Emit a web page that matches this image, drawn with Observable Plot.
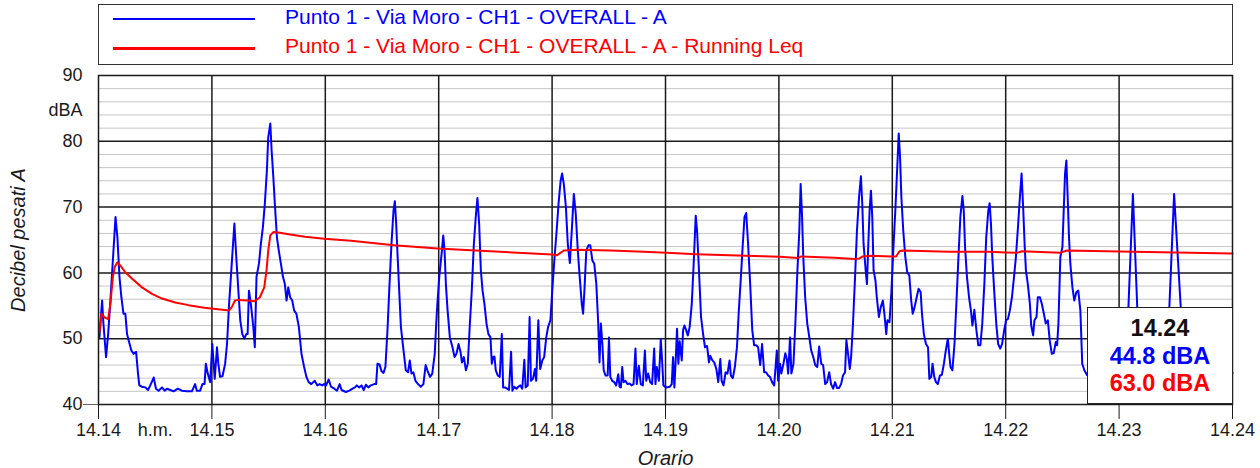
<!DOCTYPE html>
<html><head><meta charset="utf-8">
<script src="https://cdn.jsdelivr.net/npm/d3@7"></script>
<script src="https://cdn.jsdelivr.net/npm/@observablehq/plot@0.6"></script>
<style>
body{margin:0;background:#fff;font-family:"Liberation Sans",Arial,sans-serif;}
#wrap{position:relative;width:1260px;height:468px;overflow:hidden;background:#fff}
#legend{position:absolute;left:98px;top:4px;width:1135px;height:61px;border:1.5px solid #333;box-sizing:border-box;background:#fff}
.lg-line{position:absolute;left:14px;width:142px;height:2.5px}
.lg-text{position:absolute;left:186px;font-size:21px;line-height:24px;white-space:nowrap}
#info{position:absolute;left:1087px;top:307px;width:146px;height:97px;border:1.5px solid #222;box-sizing:border-box;background:#fff;text-align:center;font-weight:bold;font-size:23.5px;line-height:27.5px;padding-top:7px}
</style>
</head><body>
<div id="wrap"></div>
<script>
// ---- data ----
const xTickSeconds = [0, 60, 120, 180, 240, 300, 360, 420, 480, 540, 600];
const xTickLabels = ["14.14","14.15","14.16","14.17","14.18","14.19","14.20","14.21","14.22","14.23","14.24"];
const yTicks = [40, 50, 60, 70, 80, 90];
const yMinor = [42,44,46,48,52,54,56,58,62,64,66,68,72,74,76,78,82,84,86,88];
const legendLabels = ["Punto 1 - Via Moro - CH1 - OVERALL - A", "Punto 1 - Via Moro - CH1 - OVERALL - A - Running Leq"];
const cursorLabel = "14.24";
// blue: [seconds after 14.14, dBA]
const overallA = [
[0.5,50.2],[1.9,55.8],[2.6,52.3],[4.0,47.2],[5.1,50.7],[6.3,55.8],[7.6,61.9],[9.0,68.5],[10.0,65.4],[11.1,59.4],[12.1,56.3],[13.2,53.8],[14.2,53.8],[15.1,50.7],[16.0,49.7],[17.4,48.2],[18.6,47.7],[19.9,48.0],[20.9,44.7],[21.6,42.9],[23.0,42.7],[24.8,42.6],[26.2,42.2],[27.4,42.9],[29.2,44.1],[30.4,42.4],[31.8,42.1],[33.6,42.6],[35.0,42.1],[36.2,42.4],[38.0,42.2],[39.7,42.0],[42.0,42.4],[44.1,42.1],[46.8,42.0],[49.4,42.0],[51.1,43.1],[52.0,42.1],[53.8,42.1],[55.0,43.1],[56.1,43.1],[56.8,46.2],[57.8,44.7],[59.1,43.4],
[60.2,49.2],[61.5,43.9],[62.7,48.7],[63.4,46.2],[64.3,44.2],[65.6,44.3],[67.0,46.2],[68.0,49.2],[69.1,55.3],[70.5,61.4],[71.9,67.5],[72.9,62.4],[74.0,57.3],[75.0,52.8],[76.1,50.7],[77.1,50.0],[78.2,50.7],[78.9,50.7],[79.6,57.3],[80.6,55.3],[81.9,51.8],[82.7,48.7],[83.6,59.4],[84.9,61.4],[85.9,64.4],[87.0,67.0],[88.0,70.5],[89.1,75.6],[89.8,80.6],[90.9,82.7],[91.6,78.6],[92.5,74.6],[93.3,70.5],[94.4,65.4],[95.4,63.4],[96.5,61.4],[97.6,59.4],[98.6,58.3],[99.5,55.8],[100.4,57.8],[101.4,56.3],[102.5,55.8],[103.5,54.3],[104.7,53.8],[106.0,51.8],[107.4,47.7],[108.8,45.7],[110.0,44.2],[111.2,43.4],[112.6,43.1],[114.4,43.6],[115.8,42.9],[117.0,43.1],[118.3,42.9],[119.3,43.1],
[120.4,42.9],[121.8,43.8],[123.0,42.7],[124.8,42.4],[126.2,42.1],[127.6,43.1],[128.6,42.2],[130.9,41.9],[132.7,42.1],[134.4,42.4],[135.7,42.6],[136.7,42.9],[137.9,42.6],[139.2,42.9],[140.3,42.2],[141.5,43.0],[142.7,42.6],[144.1,42.9],[145.9,43.1],[146.9,43.1],[147.6,46.2],[148.7,46.1],[149.7,45.1],[150.8,44.8],[151.8,45.7],[152.9,51.3],[153.9,57.8],[155.0,64.4],[156.1,69.5],[156.8,70.9],[157.5,67.5],[158.2,62.9],[159.1,57.3],[160.0,51.8],[161.4,48.2],[162.6,45.2],[163.8,44.9],[164.7,46.7],[165.6,44.7],[166.6,44.9],[167.7,43.6],[169.1,43.1],[170.5,42.7],[171.9,43.1],[173.1,46.0],[174.0,45.2],[175.4,44.2],[176.6,44.7],[177.9,47.7],[178.6,51.8],[179.3,55.3],
[180.3,59.4],[181.7,63.4],[182.4,65.7],[183.1,63.4],[183.8,58.3],[184.7,54.3],[185.9,50.2],[187.3,48.7],[188.4,47.2],[189.4,47.7],[190.5,49.2],[191.6,47.9],[192.3,46.4],[193.3,47.2],[194.4,45.2],[195.4,46.2],[196.5,52.3],[197.5,57.3],[198.6,64.4],[199.6,68.5],[200.5,71.4],[201.4,67.5],[202.3,60.4],[203.2,57.3],[204.2,55.3],[205.3,52.3],[206.3,50.7],[207.4,50.2],[208.1,46.2],[208.8,47.2],[209.5,47.3],[210.2,45.2],[211.3,44.4],[212.3,44.2],[213.4,50.7],[214.1,42.6],[215.1,42.6],[216.2,42.4],[217.2,42.2],[218.3,48.0],[219.0,42.1],[220.0,42.7],[221.1,42.4],[222.1,42.7],[223.2,42.9],[224.2,42.4],[225.3,46.8],[226.0,42.6],[227.1,42.9],[228.1,53.3],[228.8,43.6],[229.9,43.9],[230.9,45.4],[231.6,43.6],[232.7,52.8],[233.7,45.4],[234.8,46.7],[235.8,47.2],[236.9,50.2],[237.9,51.8],[239.1,52.8],[240.2,57.8],
[241.3,62.4],[242.4,66.4],[243.4,70.5],[244.5,74.0],[245.3,75.1],[246.2,73.5],[247.3,70.0],[248.3,64.4],[249.4,61.5],[250.4,66.4],[251.5,72.0],[252.5,69.0],[253.6,63.4],[254.6,59.4],[255.7,55.3],[256.4,53.8],[257.1,57.3],[258.1,63.4],[259.2,64.2],[260.2,64.2],[261.3,61.9],[262.3,61.4],[263.4,58.3],[264.4,52.3],[265.1,46.4],[265.8,52.3],[266.6,49.2],[267.3,45.2],[268.3,44.4],[269.4,44.4],[270.1,50.2],[270.8,44.2],[271.8,43.6],[272.9,43.4],[273.9,42.9],[275.0,44.6],[275.7,42.7],[276.4,42.6],[277.1,45.7],[277.8,43.4],[278.8,43.6],[279.9,43.1],[281.0,43.2],[282.0,42.9],[283.1,43.1],[284.1,48.5],[284.8,43.1],[285.9,45.9],[286.9,43.1],[288.0,42.9],[289.1,48.2],[289.8,43.6],[290.8,44.7],[291.9,43.4],[292.9,43.1],[294.0,48.5],[294.7,43.1],[295.4,45.7],[296.5,43.6],[297.5,49.9],[298.2,46.7],[298.9,42.9],[300.3,42.6],
[302.3,42.7],[303.3,43.1],[304.0,47.2],[304.7,42.6],[305.4,46.7],[306.1,51.5],[306.8,46.2],[307.5,49.6],[308.6,46.7],[309.3,51.3],[310.0,52.0],[310.7,51.5],[311.8,50.5],[312.8,51.8],[313.9,55.3],[314.9,61.4],[316.0,68.7],[316.7,66.4],[317.7,60.4],[318.8,53.3],[319.9,50.7],[320.9,48.7],[322.0,48.9],[323.0,46.4],[323.7,47.4],[324.8,46.7],[325.8,46.4],[326.9,45.4],[327.9,43.4],[329.0,46.9],[329.7,43.6],[330.7,42.9],[331.8,44.9],[332.8,44.7],[333.9,46.7],[334.6,44.4],[335.6,44.0],[336.7,45.7],[337.8,48.7],[338.8,54.3],[339.9,59.4],[340.9,64.4],[341.8,68.5],[342.7,69.1],[343.7,64.4],[344.8,58.3],[345.9,51.3],[346.9,49.0],[348.0,49.0],[349.0,48.7],[350.1,46.0],[351.1,49.2],[352.2,44.9],[353.2,44.9],[354.3,44.4],[355.3,44.2],[356.4,43.4],[357.5,42.9],
[358.9,48.2],[359.6,43.6],[360.6,46.2],[361.3,44.7],[362.4,46.2],[363.4,47.8],[364.2,46.9],[364.9,44.7],[365.9,50.2],[366.6,44.7],[367.7,46.2],[368.7,52.3],[369.8,60.4],[370.8,66.4],[371.5,73.5],[372.2,69.0],[372.9,62.4],[373.9,56.3],[375.0,52.3],[376.1,50.2],[377.1,48.2],[378.2,47.2],[379.2,46.0],[380.3,45.7],[381.3,48.8],[382.4,46.2],[383.4,46.0],[384.5,43.1],[385.5,43.4],[386.6,44.9],[387.6,43.1],[388.7,42.4],[389.7,43.4],[390.8,42.5],[391.8,42.5],[392.9,43.1],[393.9,44.4],[395.0,44.9],[395.7,49.8],[396.8,47.2],[397.5,45.4],[398.2,47.2],[399.2,52.3],[400.3,59.4],[401.3,66.4],[402.4,71.5],[403.4,74.7],[404.1,70.5],[404.8,64.4],[405.9,60.4],[406.6,58.3],[407.3,64.4],[408.0,69.5],[408.7,72.5],[409.4,68.5],[410.1,60.4],[411.1,58.8],[411.8,56.3],[412.9,53.3],[413.9,54.8],[415.0,55.8],[415.7,54.1],[416.8,50.7],[417.4,52.8],[418.5,52.5],[419.5,57.0],
[420.6,63.9],[421.6,69.5],[422.7,76.6],[423.4,81.2],[424.1,77.6],[424.8,71.5],[425.8,66.4],[426.9,62.4],[427.9,60.1],[429.0,59.6],[430.0,55.8],[430.8,53.8],[431.8,54.8],[432.9,56.3],[433.9,57.6],[435.0,57.1],[435.7,53.8],[436.7,50.7],[437.8,49.2],[438.9,48.7],[439.6,43.9],[440.6,44.2],[441.3,46.2],[442.2,44.2],[443.1,43.4],[444.1,43.1],[445.2,44.4],[446.2,44.5],[447.3,46.2],[448.3,48.2],[449.4,50.0],[450.1,47.7],[450.8,45.7],[451.8,45.2],[452.9,49.2],[453.9,55.3],[455.0,62.4],[456.0,68.5],[457.1,71.7],[457.8,69.5],[458.5,63.9],[459.5,59.4],[460.6,56.3],[461.6,54.3],[462.4,52.0],[463.4,54.4],[464.5,51.3],[465.5,49.0],[466.6,49.0],[467.6,52.3],[468.7,58.3],[469.7,65.4],[470.8,69.5],[471.5,70.6],[472.2,67.5],[472.9,62.4],[473.9,57.3],[475.0,52.3],[476.0,49.2],[477.1,48.5],[478.1,49.2],[479.2,51.3],[480.2,52.8],
[481.2,53.0],[482.2,54.3],[483.3,56.3],[484.4,59.4],[485.4,62.4],[486.5,67.0],[487.5,71.5],[488.4,75.1],[489.3,69.5],[490.0,64.4],[490.7,60.4],[491.7,58.3],[492.8,55.3],[493.5,52.0],[494.5,50.5],[495.2,52.8],[496.3,53.3],[497.0,56.3],[498.1,56.3],[499.1,55.3],[500.2,53.8],[501.2,52.3],[502.3,52.8],[503.3,49.7],[504.4,47.7],[505.4,47.8],[506.5,49.5],[507.2,49.0],[507.9,52.3],[508.9,62.4],[510.0,63.9],[510.7,69.5],[511.4,75.1],[512.1,77.1],[512.8,71.5],[513.5,65.4],[514.2,61.4],[515.3,57.8],[516.3,55.8],[517.4,57.1],[518.4,57.3],[519.5,54.3],[520.5,46.2],[521.6,45.2],
[523,44.5],[525,46],[528,45],[531,48],[534,47],[537,50],[540,49],[544,48],[547.3,72],[550.5,48],[553,48],[556,47],[559,49],[562,50],[565.6,48],[569.1,72],[574,48],[577,47],[580,46],[584,45],[588,44],[592,45],[596,44],[600,44.8]
];
// red: running Leq
const runningLeq = [
[0.5,51.0],[1.6,53.8],[3.3,53.2],[5.1,53.0],[6.3,55.3],[7.6,59.4],[8.6,60.9],[10.0,61.6],[11.6,61.1],[14.2,60.1],[17.8,59.1],[23.0,57.8],[28.3,56.8],[33.6,56.1],[40.6,55.5],[47.6,55.1],[56.0,54.7],[62.0,54.5],[69.1,54.3],[70.5,54.8],[72.2,55.8],[74.0,55.9],[79.2,55.8],[82.7,55.7],[85.4,56.3],[87.7,57.8],[88.9,60.4],[89.8,63.4],[90.9,65.7],[92.5,66.2],[95.1,66.15],[102.2,65.8],[109.2,65.5],[119.3,65.2],[133.6,64.9],[156.4,64.2],[179.3,63.7],[199.6,63.4],[240.0,62.8],[242.7,62.7],[246.2,63.4],[253.2,63.5],[270.8,63.4],[288.4,63.2],[300.6,63.05],[316.3,62.85],[342.7,62.6],[360.6,62.45],[370.0,62.25],[371.8,62.5],[389.4,62.3],[400.0,62.1],[402.6,62.2],[404.4,62.5],[408.7,62.6],[419.6,62.5],[422.0,62.5],[423.8,63.3],[425.5,63.4],[450.1,63.2],[471.1,63.2],[480.2,63.1],[485.9,63.05],[488.6,63.3],[508.8,63.05],[512.3,63.4],[540.4,63.25],[547.6,63.2],[600,62.95]
];

const BLUE = "#0000ff", RED = "#ff0000";
const ink = "#1a1a1a";

const chart = Plot.plot({
  width: 1260, height: 468,
  marginLeft: 98, marginRight: 28, marginTop: 75, marginBottom: 64,
  style: {fontFamily: '"Liberation Sans", Arial, sans-serif', fontSize: "18px", color: ink, background: "#fff", overflow: "visible"},
  x: {domain: [0, 600], label: null},
  y: {domain: [40, 90], label: null},
  marks: [
    Plot.ruleY(yMinor, {stroke: "#c6c6c6", strokeWidth: 1}),
    Plot.ruleY(yTicks.slice(1, -1), {stroke: ink, strokeWidth: 1.5}),
    Plot.ruleX(xTickSeconds.slice(1, -1), {stroke: ink, strokeWidth: 1.5}),
    Plot.line(overallA, {x: d => d[0], y: d => d[1], stroke: BLUE, strokeWidth: 2}),
    Plot.line(runningLeq, {x: d => d[0], y: d => d[1], stroke: RED, strokeWidth: 2}),
    Plot.frame({stroke: ink, strokeWidth: 1.5}),
    Plot.axisX({ticks: xTickSeconds, tickFormat: d => xTickLabels[Math.round(d / 60)], tickSize: 15, tickPadding: 4, fontSize: 18, label: null}),
    Plot.axisX({ticks: [30], tickFormat: () => "h.m.", tickSize: 0, tickPadding: 19, fontSize: 18, label: null}),
    Plot.axisY({ticks: yTicks, tickSize: 0, tickPadding: 16, fontSize: 18, label: null}),
    Plot.axisY({ticks: [84.7], tickFormat: () => "dBA", tickSize: 0, tickPadding: 16, fontSize: 18, label: null}),
    Plot.axisY({ticks: [40], tickFormat: () => "", tickSize: 15, stroke: "#666", label: null}),
    Plot.text(["Decibel pesati A"], {text: d => d, frameAnchor: "left", textAnchor: "middle", lineAnchor: "middle", dx: -80, rotate: -90, fontSize: 20, fontStyle: "italic", fill: ink}),
    Plot.text(["Orario"], {text: d => d, frameAnchor: "bottom", textAnchor: "middle", lineAnchor: "middle", dy: 54, fontSize: 20, fontStyle: "italic", fill: ink})
  ]
});

const wrap = document.getElementById("wrap");
wrap.appendChild(chart);

// legend
const legend = document.createElement("div");
legend.id = "legend";
[[BLUE, 0], [RED, 1]].forEach(([c, i]) => {
  const ln = document.createElement("div");
  ln.className = "lg-line";
  ln.style.background = c;
  ln.style.top = (i === 0 ? 12.5 : 42) + "px";
  legend.appendChild(ln);
  const tx = document.createElement("div");
  tx.className = "lg-text";
  tx.style.color = c;
  tx.style.top = (i === 0 ? 0 : 29) + "px";
  tx.textContent = legendLabels[i];
  legend.appendChild(tx);
});
wrap.appendChild(legend);

// cursor value box (last values)
const info = document.createElement("div");
info.id = "info";
const lastBlue = overallA[overallA.length - 1][1];
const lastRed = runningLeq[runningLeq.length - 1][1];
info.innerHTML = `<div style="color:#111">${cursorLabel}</div><div style="color:${BLUE}">${lastBlue.toFixed(1)} dBA</div><div style="color:${RED}">${lastRed.toFixed(1)} dBA</div>`;
wrap.appendChild(info);
</script>
</body></html>
